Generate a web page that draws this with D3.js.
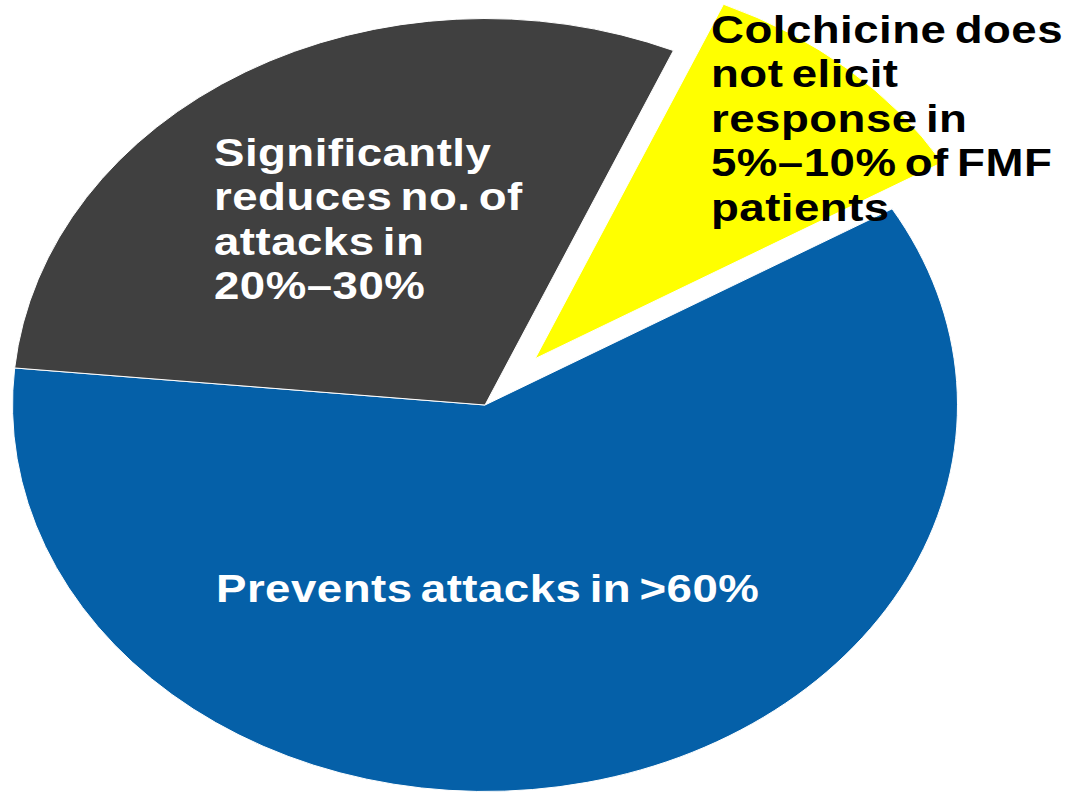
<!DOCTYPE html>
<html>
<head>
<meta charset="utf-8">
<script src="https://cdn.jsdelivr.net/npm/d3@7/dist/d3.min.js"></script>
<style>
  html, body { margin: 0; padding: 0; background: #ffffff; }
  svg { display: block; }
  text { font-family: "Liberation Sans", Arial, sans-serif; font-weight: bold; }
</style>
</head>
<body>
<svg id="chart" width="1074" height="794"></svg>
<script>
// Colchicine response in FMF patients
const categories = ["No response", "Prevents attacks", "Reduces attacks"];
const values = [10, 60, 30];
const labelLines = [
  ["Colchicine does", "not elicit", "response in", "5%\u201310% of FMF", "patients"],
  ["Prevents attacks in >60%"],
  ["Significantly", "reduces no. of", "attacks in", "20%\u201330%"]
];

// Styling and layout
const sliceColors = ["#FFFF00", "#0560A8", "#404040"];
const textColors = ["#000000", "#ffffff", "#ffffff"];
const exploded = [0.16, 0, 0];
const labelPos = [[711, 43], [216, 602], [214, 166]];
const lineStep = 44.5;
const fontSize = 38;
const textStretch = 1.2;

const cx = 485, cy = 405, rx = 472.5, ry = 386.5, R = 400;
const startDeg = 23.5;

const svg = d3.select("#chart");

const pie = d3.pie()
  .sort(null)
  .value(d => d)
  .startAngle(startDeg * Math.PI / 180)
  .endAngle(startDeg * Math.PI / 180 + 2 * Math.PI);

const arcs = pie(values);
const arc = d3.arc().innerRadius(0).outerRadius(R);

// Pie is drawn on a circle and stretched into an ellipse
const g = svg.append("g")
  .attr("transform", `translate(${cx},${cy}) scale(${rx / R},${ry / R})`);

g.selectAll("path.slice")
  .data(arcs)
  .join("path")
  .attr("class", "slice")
  .attr("d", arc)
  .attr("fill", (d, i) => sliceColors[i])
  .attr("stroke", "#ffffff")
  .attr("stroke-width", 1)
  .attr("vector-effect", "non-scaling-stroke")
  .attr("transform", (d, i) => {
    const mid = (d.startAngle + d.endAngle) / 2;
    const k = exploded[i] * R;
    return `translate(${Math.sin(mid) * k},${-Math.cos(mid) * k})`;
  });

// Slice labels
const labels = svg.selectAll("g.label")
  .data(arcs)
  .join("g")
  .attr("class", "label")
  .attr("transform", (d, i) => `translate(${labelPos[i][0]},${labelPos[i][1]}) scale(${textStretch},1)`);

labels.each(function(d, i) {
  d3.select(this).selectAll("text")
    .data(labelLines[i])
    .join("text")
    .attr("x", 0)
    .attr("y", (t, j) => j * lineStep)
    .attr("font-size", fontSize)
    .attr("letter-spacing", 0.4)
    .attr("word-spacing", -4)
    .attr("fill", textColors[i])
    .text(t => t);
});
</script>
</body>
</html>
